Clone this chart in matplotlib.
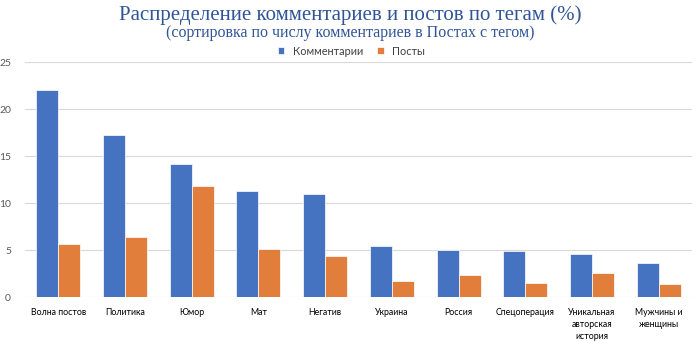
import numpy as np
import matplotlib.pyplot as plt

# data
categories = ['Волна постов', 'Политика', 'Юмор', 'Мат', 'Негатив', 'Украина',
              'Россия', 'Спецоперация', 'Уникальная\nавторская\nистория', 'Мужчины и\nженщины']
comments = [22.0, 17.2, 14.1, 11.3, 10.95, 5.4, 5.0, 4.93, 4.6, 3.6]
posts = [5.6, 6.4, 11.85, 5.15, 4.4, 1.7, 2.3, 1.45, 2.6, 1.4]
yticks = [0, 5, 10, 15, 20, 25]

blue = '#4672C2'
orange = '#E27E3C'

fig = plt.figure(figsize=(7, 3.41), dpi=100)
ax = fig.add_axes([0.0357, 0.129, 0.9529, 0.689])

x = np.arange(len(categories))
w = 0.33
ax.bar(x - w / 2, comments, w, color=blue, edgecolor='white', linewidth=0.5, label='Комментарии', zorder=3)
ax.bar(x + w / 2, posts, w, color=orange, edgecolor='white', linewidth=0.5, label='Посты', zorder=3)

ax.set_xlim(-0.5, len(categories) - 0.5)
ax.set_ylim(0, 25)
ax.set_yticks(yticks)
ax.set_yticklabels([str(t) for t in yticks], fontsize=7.5, color='#595959', family='Lato')
ax.set_xticks(x)
ax.set_xticklabels(categories, fontsize=6.3, color='black', family='Lato', linespacing=1.4)
ax.tick_params(length=0)
ax.tick_params(axis='y', pad=10)
ax.tick_params(axis='x', pad=8)
ax.grid(axis='y', color='#D9D9D9', linewidth=0.8, zorder=0)
for s in ax.spines.values():
    s.set_visible(False)

fig.text(0.5, 0.955, 'Распределение комментариев и постов по тегам (%)', ha='center', va='center',
         fontsize=15, color='#2F5597', family='Liberation Serif')
fig.text(0.5, 0.903, '(сортировка по числу комментариев в Постах с тегом)', ha='center', va='center',
         fontsize=11.5, color='#2F5597', family='Liberation Serif')

leg = fig.legend(loc='center', bbox_to_anchor=(0.502, 0.85), ncol=2, frameon=False,
                 prop={'family': 'Lato', 'size': 7.8}, handlelength=0.6, handleheight=0.6,
                 columnspacing=1.3, handletextpad=0.8)
for t in leg.get_texts():
    t.set_color('#404040')

fig.savefig('out.png', dpi=100)
